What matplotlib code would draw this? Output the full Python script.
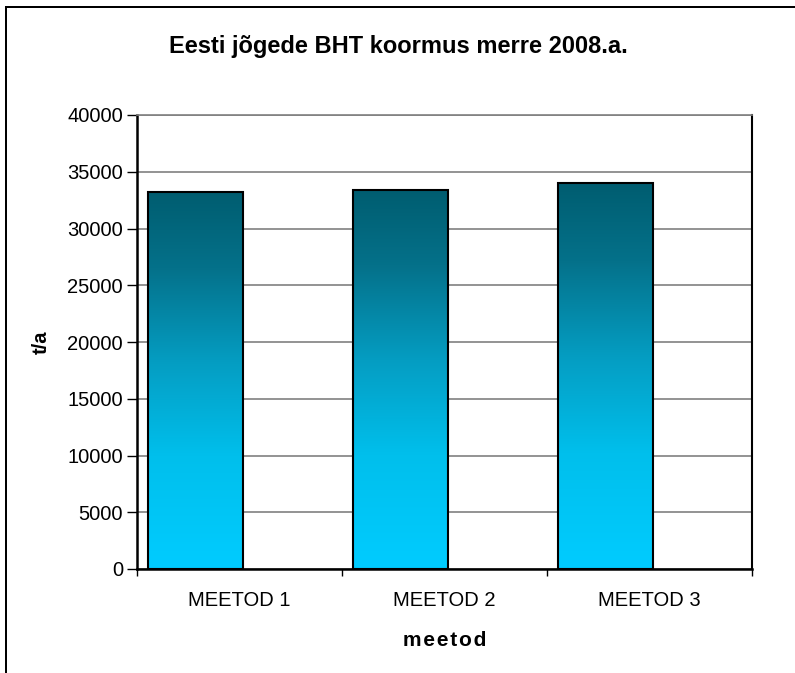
import numpy as np
import matplotlib
matplotlib.use("Agg")
import matplotlib.pyplot as plt
from matplotlib.colors import LinearSegmentedColormap
from matplotlib.patches import Rectangle

plt.rcParams['font.family'] = ['Liberation Sans', 'DejaVu Sans']

# andmed
meetodid = ['MEETOD 1', 'MEETOD 2', 'MEETOD 3']
koormus = [33200, 33400, 34000]
y_ticks = [0, 5000, 10000, 15000, 20000, 25000, 30000, 35000, 40000]

fig = plt.figure(figsize=(7.95, 6.73), dpi=100)
# raam ümber diagrammi (paremal ja all lõigatud)
fig.add_artist(Rectangle((5 / 795, 0), 2 / 795, 1 - 6 / 673, transform=fig.transFigure,
                         facecolor='black', edgecolor='none'))
fig.add_artist(Rectangle((5 / 795, 1 - 8 / 673), 1, 2 / 673, transform=fig.transFigure,
                         facecolor='black', edgecolor='none'))

ax = fig.add_axes([137 / 795, 104 / 673, 615 / 795, 454 / 673])

# gradient: hele all, tume üleval
cmap = LinearSegmentedColormap.from_list(
    'bht', [(0.0, '#00ccff'), (0.3, '#00bfec'), (0.55, '#059dc2'),
            (0.8, '#04718a'), (1.0, '#005d70')])
grad = np.linspace(0, 1, 256).reshape(-1, 1)

offset = 0.054
width = 0.463
for i, v in enumerate(koormus):
    x0 = i + offset
    rect = Rectangle((x0, 0), width, v, facecolor='none', edgecolor='black', linewidth=1.5, zorder=3)
    ax.add_patch(rect)
    im = ax.imshow(grad, cmap=cmap, origin='lower', aspect='auto',
                   extent=[x0, x0 + width, 0, v], zorder=2)
    im.set_clip_path(rect)

ax.set_xlim(0, 3)
ax.set_ylim(0, 40000)
ax.set_yticks(y_ticks)
ax.set_yticklabels([str(t) for t in y_ticks], fontsize=14.5)
ax.yaxis.grid(True, color='#808080', linewidth=1.2, zorder=0)
ax.set_axisbelow(True)

ax.set_xticks([0, 1, 2, 3])
ax.set_xticklabels([])
ax.set_xticks([0.5, 1.5, 2.5], minor=True)
ax.set_xticklabels(meetodid, minor=True, fontsize=14.5)
ax.tick_params(axis='x', which='minor', length=0, pad=16)
ax.tick_params(axis='x', which='major', length=5, width=1, direction='out')
ax.tick_params(axis='y', length=7, width=1, pad=3)

ax.spines['left'].set_linewidth(1.8)
ax.spines['bottom'].set_linewidth(1.8)
ax.spines['right'].set_linewidth(1.5)
ax.spines['top'].set_color('#808080')
ax.spines['top'].set_linewidth(1.2)

ax.set_xlabel('\u200a'.join('meetod'), fontsize=15, fontweight='bold', labelpad=15)
ax.set_ylabel('t/a', fontsize=14.5, fontweight='bold', labelpad=12)

fig.text(398 / 795, 1 - 47 / 673, 'Eesti jõgede BHT koormus merre 2008.a.',
         ha='center', va='center', fontsize=17, fontweight='bold')

fig.savefig('out.png', dpi=100, facecolor='white')
